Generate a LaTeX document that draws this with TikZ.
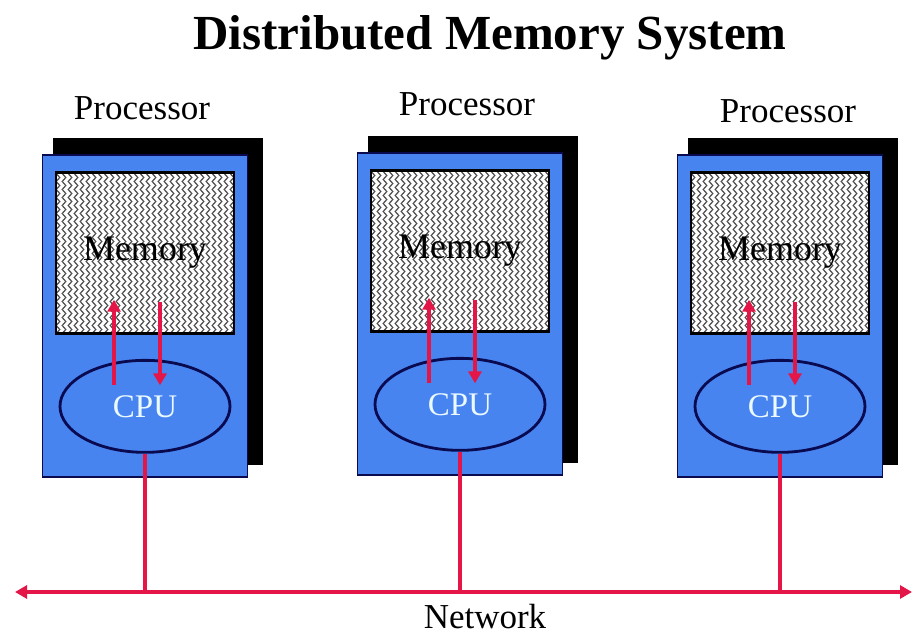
\documentclass[tikz,border=0pt]{standalone}
\usepackage{fontspec}
\setmainfont{Liberation Serif}
\usepackage{tikz}
\usetikzlibrary{arrows.meta,shapes.geometric,decorations.pathmorphing,positioning}
\definecolor{procblue}{RGB}{72,132,240}
\definecolor{navy}{RGB}{10,10,80}
\definecolor{netred}{RGB}{228,22,72}
\definecolor{cputext}{RGB}{235,250,255}
\tikzset{
  shadowbox/.style = {fill=black, inner sep=0pt, minimum width=210pt, minimum height=327pt},
  procbox/.style = {fill=procblue, draw=navy, line width=1.5pt, inner sep=0pt, minimum width=205pt, minimum height=322pt},
  zigzags/.style = {path picture={
      \foreach \k in {0,...,30}
        \draw[black!70, line width=1.2pt, decorate, decoration={zigzag, segment length=8pt, amplitude=1.8pt}]
          ([xshift=\k*6pt+2pt, yshift=5pt]path picture bounding box.north west) --
          ([xshift=\k*6pt+2pt, yshift=-5pt]path picture bounding box.south west);
    }},
  membox/.style = {fill=white, zigzags, draw=black, line width=2.5pt, inner sep=0pt, minimum width=178pt, minimum height=161pt, font=\fontsize{36}{40}\selectfont},
  cpunode/.style = {ellipse, draw=navy, fill=procblue, line width=2.8pt, minimum width=170pt, minimum height=92pt, text=cputext, font=\fontsize{33}{38}\selectfont},
  plabel/.style = {font=\fontsize{35}{40}\selectfont},
  busline/.style = {draw=netred, line width=3.5pt},
  memarrow/.style = {busline, -{Triangle[width=13pt,length=12pt]}},
}

\begin{document}
\begin{tikzpicture}[x=1pt,y=-1pt]
\useasboundingbox (0,0) rectangle (914,636);
\node [font=\bfseries\fontsize{49}{56}\selectfont, anchor=base] (title) at (490,50) {Distributed Memory System};

% the network bus
\coordinate (netL) at (15,592);
\coordinate (netR) at (912,592);
\draw [busline, {Triangle[width=13pt,length=12pt]}-{Triangle[width=13pt,length=12pt]}] (netL) -- (netR);
\node [plabel] (netlabel) at (485,617) {Network};

% one processor per entry: number / box centre / label position
\foreach \i/\cx/\cy/\lx/\ly in {1/145/316/142/108, 2/460/314/467/104, 3/780/316/788/111} {
  \node [shadowbox] (shadow\i) at (\cx+13, \cy-14) {};
  \node [procbox] (proc\i) at (\cx,\cy) {};
  \node [plabel] (plab\i) at (\lx,\ly) {Processor};
  \node [membox, below=17pt of proc\i.north] (mem\i) {Memory};
  \node [cpunode, above=24pt of proc\i.south] (cpu\i) {CPU};
  \draw [memarrow] ([xshift=-31pt,yshift=21pt]cpu\i.center) -- ([xshift=-31pt,yshift=35pt]mem\i.south);
  \draw [memarrow] ([xshift=15pt,yshift=33pt]mem\i.south) -- ([xshift=15pt,yshift=21pt]cpu\i.center);
  \draw [busline] (cpu\i.south) -- (cpu\i.south |- netL);
}
\end{tikzpicture}
\end{document}
